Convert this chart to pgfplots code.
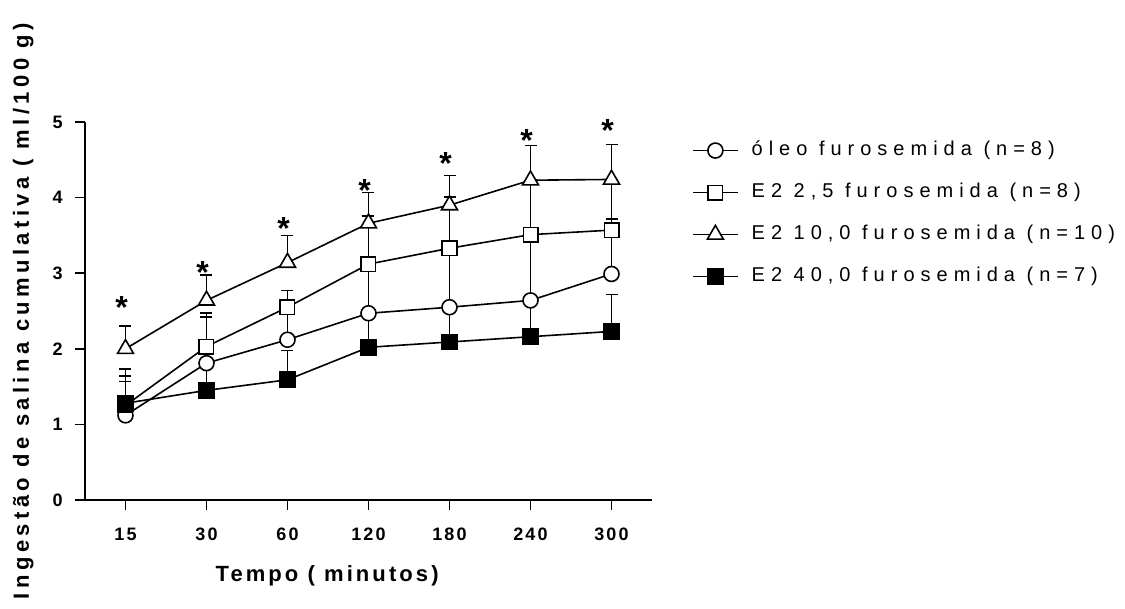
\documentclass[border=0pt]{standalone}
\usepackage{pgfplots}
\pgfplotsset{compat=1.18}
\usepackage{fontspec}
\setmainfont{Liberation Sans}
\newfontfamily\lsp{Liberation Sans}[LetterSpace=12]
\newfontfamily\lspx{Liberation Sans}[LetterSpace=14]
\newfontfamily\lspy{Liberation Sans}[LetterSpace=20]
\newfontfamily\lspl{Liberation Sans}[LetterSpace=30]
\pgfplotsset{errstyle/.style={forget plot, draw=none, mark=none, line width=0.8pt,
  error bars/y dir=plus, error bars/y explicit,
  error bars/error mark options={draw=black, rotate=90, mark size=3pt, line width=0.8pt},
  error bars/error bar style={draw=black, line width=0.8pt}}}
\begin{document}
\begin{tikzpicture}
\begin{axis}[name=ax, scale only axis, width=283.5pt, height=189pt,
  xmin=-0.5, xmax=6.5, ymin=0, ymax=5,
  axis x line*=bottom, axis y line*=left,
  axis line style={-, line width=0.8pt},
  xtick={0,...,6}, xticklabels={15,30,60,120,180,240,300}, ytick={0,...,5},
  tick align=outside, major tick length=5pt, tick style={black, line width=0.8pt},
  /pgf/number format/assume math mode=true,
  tick label style={font=\lsp\bfseries\fontsize{9}{10}\selectfont},
  xticklabel style={inner sep=0pt, yshift=-8.8pt},
  yticklabel style={inner sep=0pt, xshift=-6pt},
  xlabel={Tempo ( minutos)},
  ylabel={Ingestão de salina cumulativa ( ml/100 g)},
  x label style={at={(axis description cs:0.427,-0.201)}, anchor=center, font=\lspx\bfseries\fontsize{11}{13}\selectfont},
  y label style={at={(axis description cs:-0.109,0.500)}, anchor=center, font=\lspy\bfseries\fontsize{11}{13}\selectfont},
  clip=false,
  legend style={at={(axis description cs:1.07,0.952)}, anchor=north west, draw=none, fill=none, inner sep=0pt,
    font=\lspl\fontsize{10}{12}\selectfont, row sep=11pt,
    nodes={inner sep=0pt, text height=7.5pt, text depth=2.5pt},
    /tikz/every odd column/.append style={column sep=6.5pt}},
  legend cell align=left,
  legend image code/.code={\draw[mark repeat=2,mark phase=2] plot coordinates {(0pt,0pt)(11.25pt,0pt)(22.5pt,0pt)};},
]
% series: lines and marks
\addplot[black, line width=0.8pt, mark=*, mark size=3.75pt, mark options={fill=white, solid}]
  coordinates {(0,1.12)(1,1.81)(2,2.12)(3,2.47)(4,2.55)(5,2.64)(6,2.99)};
\addlegendentry{óleo furosemida (n=8)}
\addplot[black, line width=0.8pt, mark=square*, mark size=3.6pt, mark options={fill=white, solid}]
  coordinates {(0,1.25)(1,2.03)(2,2.55)(3,3.12)(4,3.33)(5,3.51)(6,3.57)};
\addlegendentry{E2 2,5 furosemida (n=8)}
\addplot[black, line width=0.8pt, mark=triangle*, mark size=4.6pt, mark options={fill=white, solid}]
  coordinates {(0,2.00)(1,2.64)(2,3.14)(3,3.66)(4,3.90)(5,4.23)(6,4.24)};
\addlegendentry{E2 10,0 furosemida (n=10)}
\addplot[black, line width=0.8pt, mark=square*, mark size=3.75pt, mark options={fill=black, solid}]
  coordinates {(0,1.28)(1,1.45)(2,1.59)(3,2.02)(4,2.09)(5,2.16)(6,2.23)};
\addlegendentry{E2 40,0 furosemida (n=7)}
% error bars (upper, drawn on top)
\addplot[errstyle] coordinates {(0,1.12)+-(0,0.52) (1,1.81)+-(0,0.61) (2,2.12)+-(0,0.38) (3,2.47)+-(0,0.65) (4,2.55)+-(0,0.78) (5,2.64)+-(0,0.82) (6,2.99)+-(0,0.73)};
\addplot[errstyle] coordinates {(0,1.25)+-(0,0.48) (1,2.03)+-(0,0.44) (2,2.55)+-(0,0.22) (3,3.12)+-(0,0.64) (4,3.33)+-(0,0.68) (5,3.51)+-(0,0.72) (6,3.57)+-(0,0.67)};
\addplot[errstyle] coordinates {(0,2.00)+-(0,0.30) (1,2.64)+-(0,0.34) (2,3.14)+-(0,0.36) (3,3.66)+-(0,0.41) (4,3.90)+-(0,0.39) (5,4.23)+-(0,0.46) (6,4.24)+-(0,0.46)};
\addplot[errstyle] coordinates {(0,1.28)+-(0,0.29) (1,1.45)+-(0,0.36) (2,1.59)+-(0,0.39) (3,2.02)+-(0,0.45) (4,2.09)+-(0,0.46) (5,2.16)+-(0,0.48) (6,2.23)+-(0,0.49)};
% significance stars
\addplot[forget plot, draw=none, mark=none,
  nodes near coords={*},
  every node near coord/.append style={anchor=center, inner sep=0pt, yshift=-3.4pt, xshift=-2pt, text=black,
    font=\bfseries\fontsize{16}{16}\selectfont}]
  coordinates {(0,2.64)(1,3.10)(2,3.68)(3,4.18)(4,4.54)(5,4.84)(6,4.98)};
\end{axis}
\pgfresetboundingbox
\path (ax.south west) ++(-42.5pt,-54.5pt) rectangle ++(562.5pt,304.5pt);
\end{tikzpicture}
\end{document}
